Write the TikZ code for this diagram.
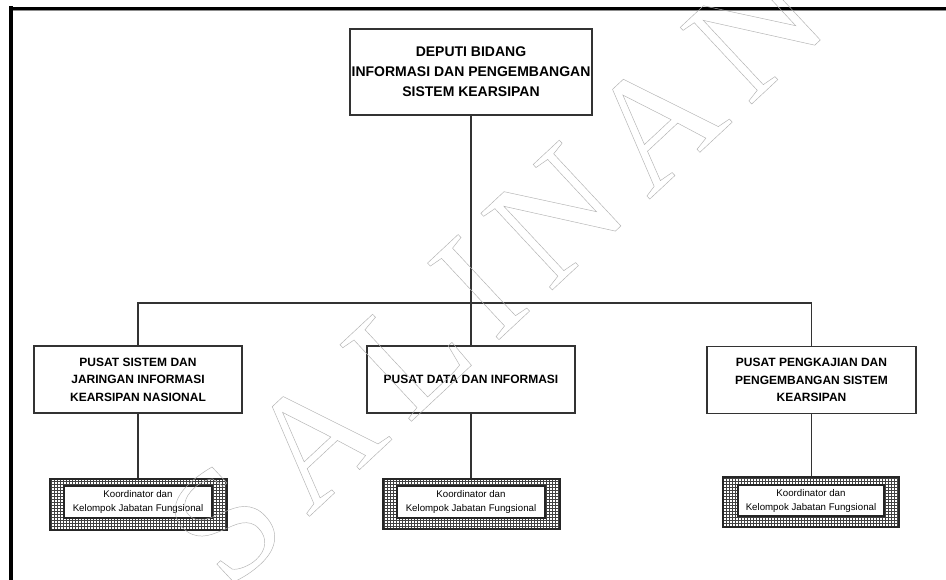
\documentclass[tikz,border=0pt]{standalone}
\usepackage{fontspec}
\setmainfont{Liberation Sans}
\newfontfamily\wmfont[LetterSpace=13]{Liberation Serif}
\usetikzlibrary{patterns}
\begin{document}
\begin{tikzpicture}[x=1pt,y=-1pt,
  box/.style={draw=black!80, line width=1.2pt, fill=white, inner sep=0pt, align=center},
  unitbox/.style={box, minimum width=208pt, minimum height=67pt, font=\bfseries\fontsize{12}{17.5}\selectfont},
  gridbox/.style={draw=black!85, line width=1.3pt, pattern=grid, pattern color=black!75, minimum width=177pt, minimum height=51pt, inner sep=0pt},
  kbox/.style={draw=black!85, line width=1.2pt, fill=white, minimum width=148pt, minimum height=32pt, inner sep=0pt, align=center, font=\fontsize{9.7}{14}\selectfont},
  link/.style={draw=black!80, line width=1.2pt},
  frame/.style={draw=black, line cap=butt}]
\fill[white] (0,0) rectangle (946,580);
\useasboundingbox (0,0) rectangle (946,580);
% page frame
\draw[frame, line width=4pt] (11,6.5) -- (11,580);
\draw[frame, line width=3pt] (9,8.5) -- (946,8.5);
\draw[black!45, line width=0.8pt] (13,10.4) -- (946,10.4);
% boxes
\node[box, minimum width=242pt, minimum height=86pt, font=\bfseries\fontsize{14}{20}\selectfont] (dep) at (471,72) {DEPUTI BIDANG\\INFORMASI DAN PENGEMBANGAN\\SISTEM KEARSIPAN};
\node[unitbox] (psj) at (138,379.5) {PUSAT SISTEM DAN\\JARINGAN INFORMASI\\KEARSIPAN NASIONAL};
\node[unitbox] (pdi) at (471,379.5) {PUSAT DATA DAN INFORMASI};
\node[unitbox, minimum width=209pt] (ppp) at (811.5,380) {PUSAT PENGKAJIAN DAN\\PENGEMBANGAN SISTEM\\KEARSIPAN};
\node[gridbox] (g1) at (138.5,504.5) {};
\node[kbox] (k1) at (138,502) {Koordinator dan\\Kelompok Jabatan Fungsional};
\node[gridbox, minimum height=50pt] (g2) at (471.5,504) {};
\node[kbox] (k2) at (471,502) {Koordinator dan\\Kelompok Jabatan Fungsional};
\node[gridbox, minimum width=176pt, minimum height=50pt] (g3) at (811,502) {};
\node[kbox, minimum width=146pt, minimum height=31pt] (k3) at (811,500.5) {Koordinator dan\\Kelompok Jabatan Fungsional};
% connectors
\coordinate (bus) at (471,303);
\path[link] (dep.south) -- (bus);
\path[link] (psj.north) |- (bus) -| (ppp.north);
\path[link] (bus) -- (pdi.north);
\path[link] (psj.south) -- (psj.south |- g1.north);
\path[link] (pdi.south) -- (pdi.south |- g2.north);
\path[link] (ppp.south) -- (ppp.south |- g3.north);
% watermark
\node[rotate=43, text=black!30, font=\wmfont\fontsize{160}{160}\selectfont, inner sep=0pt] (wm) at (495,272) {\special{pdf:literal direct 1 Tr 0.45 w}SALINAN\special{pdf:literal direct 0 Tr}};
\end{tikzpicture}
\end{document}
